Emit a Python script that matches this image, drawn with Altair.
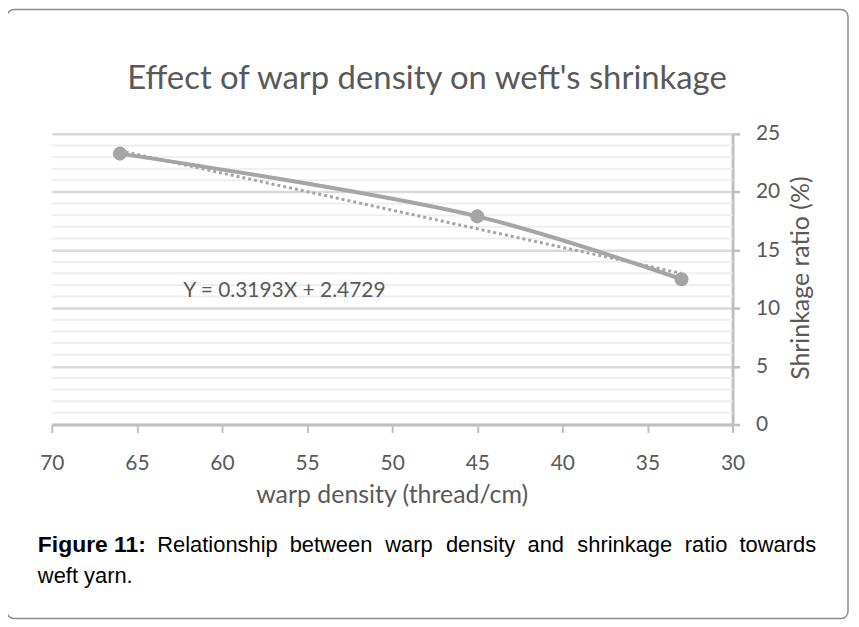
import altair as alt
import pandas as pd

# ---- data ----
warp_density = [66, 45, 33]
shrinkage = [23.3, 17.9, 12.5]
trend_x = [66, 33]
trend_y = [23.55, 13.0]
x_ticks = [70, 65, 60, 55, 50, 45, 40, 35, 30]
y_ticks = [0, 5, 10, 15, 20, 25]
minor_y = [v for v in range(1, 25) if v % 5 != 0]

title_text = "Effect of warp density on weft's shrinkage"
x_title = "warp density (thread/cm)"
y_title = "Shrinkage ratio (%)"
equation = "Y = 0.3193X + 2.4729"
caption_bold = "Figure 11:"
caption_words = ["Relationship", "between", "warp", "density", "and",
                 "shrinkage", "ratio", "towards"]
caption_line2 = "weft yarn."

# ---- layout (page pixels) ----
X0, Y0 = 52, 133
W, H = 684, 292
word_x = [158, 291, 387, 448, 530, 580, 688, 743]

GRAY = "#a5a5a5"
TXT = "#595959"
CHART_FONT = "Lato"
SANS = "Liberation Sans"

def px(v):
    return v - X0

def py(v):
    return v - Y0

df = pd.DataFrame({"x": warp_density, "y": shrinkage})
tdf = pd.DataFrame({"x": trend_x, "y": trend_y})
mdf = pd.DataFrame({"y": minor_y})
one = pd.DataFrame({"k": [0]})

xscale = alt.Scale(domain=[30, 70], reverse=True, nice=False, zero=False)
yscale = alt.Scale(domain=[0, 25], nice=False)

xaxis = alt.Axis(values=x_ticks, title=None, grid=False, labelFont=CHART_FONT,
                 labelFontSize=21, labelColor=TXT, labelBaseline="alphabetic",
                 labelPadding=37, tickSize=8, tickColor="#bfbfbf", tickWidth=2,
                 domainColor="#bfbfbf", domainWidth=3, labelFlush=False)
yaxis = alt.Axis(values=y_ticks, orient="right", title=None, grid=True,
                 gridColor="#d9d9d9", gridWidth=2.5, labelFont=CHART_FONT,
                 labelFontSize=21, labelColor=TXT, labelPadding=16,
                 tickSize=7, tickColor="#bfbfbf", tickWidth=2.5,
                 domainColor="#bfbfbf", domainWidth=3, labelFlush=False)

frame = alt.Chart(one).mark_rect(
    cornerRadius=7, fillOpacity=0, stroke="#8c8c8c", strokeWidth=1.5
).encode(x=alt.value(px(7)), x2=alt.value(px(852)),
         y=alt.value(py(8)), y2=alt.value(py(620)))

minor = alt.Chart(mdf).mark_rule(color="#eeeeee", strokeWidth=2).encode(
    y=alt.Y("y:Q", scale=yscale, axis=yaxis),
    x=alt.value(0), x2=alt.value(W))

line = alt.Chart(df).mark_line(
    color=GRAY, strokeWidth=4, interpolate="catmull-rom", strokeCap="round"
).encode(x=alt.X("x:Q", scale=xscale, axis=xaxis),
         y=alt.Y("y:Q", scale=yscale, axis=yaxis))

trend = alt.Chart(tdf).mark_line(
    color=GRAY, strokeWidth=3, strokeDash=[3, 3]
).encode(x=alt.X("x:Q", scale=xscale), y=alt.Y("y:Q", scale=yscale))

pts = alt.Chart(df).mark_circle(color=GRAY, size=200, opacity=1).encode(
    x=alt.X("x:Q", scale=xscale), y=alt.Y("y:Q", scale=yscale))

def txt(s, x, y, font=CHART_FONT, size=23, color=TXT, align="left",
        baseline="alphabetic", weight="normal", angle=0):
    kw = dict(text=s, font=font, fontSize=size, color=color, align=align,
              baseline=baseline, fontWeight=weight)
    if angle:
        kw["angle"] = angle
    return alt.Chart(one).mark_text(**kw).encode(
        x=alt.value(px(x)), y=alt.value(py(y)))

layers = [frame, minor, line, trend, pts]
layers.append(txt(title_text, 429, 88, size=33, align="center"))
layers.append(txt(equation, 184, 297, size=21))
layers.append(txt(x_title, 394, 504, size=25, align="center"))
layers.append(txt(y_title, 805, 278, size=25, align="center",
                  baseline="middle", angle=270))
layers.append(txt(caption_bold, 38, 553, font=SANS, size=23, color="#000000",
                  weight="bold"))
for w, x in zip(caption_words, word_x):
    layers.append(txt(w, x, 553, font=SANS, size=22, color="#000000"))
layers.append(txt(caption_line2, 38, 584, font=SANS, size=22, color="#000000"))

chart = alt.layer(*layers).properties(
    width=W, height=H,
    padding={"left": 44, "top": 125, "right": 119, "bottom": 197},
    autosize=alt.AutoSizeParams(type="none"),
).configure_view(stroke=None)

chart.save("out.html", embed_options={"renderer": "svg", "actions": False})
